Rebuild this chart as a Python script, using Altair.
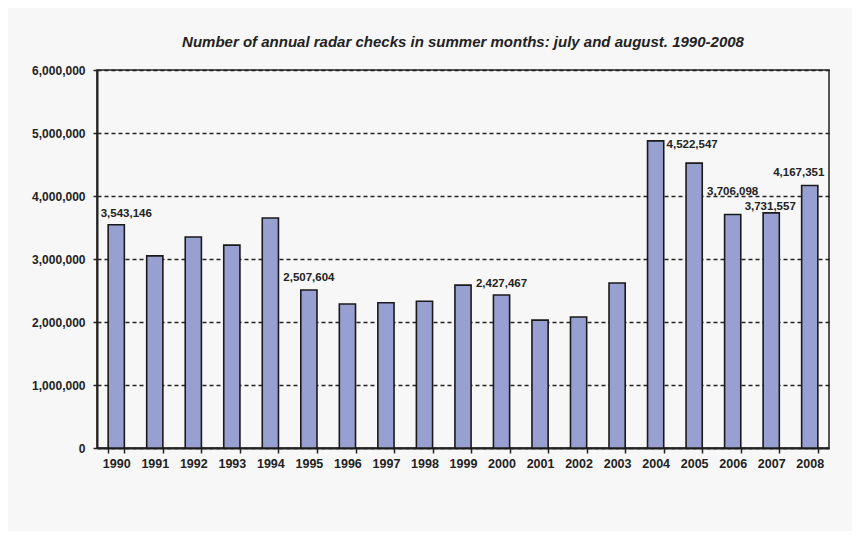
import altair as alt
import pandas as pd

years = [str(y) for y in range(1990, 2009)]
checks = [3543146, 3050000, 3350000, 3220000, 3650000, 2507604, 2285000, 2305000,
          2330000, 2585000, 2427467, 2030000, 2080000, 2620000, 4875000, 4522547,
          3706098, 3731557, 4167351]
label_years = ["1990", "1995", "2000", "2005", "2006", "2007", "2008"]
y_ticks = [0, 1000000, 2000000, 3000000, 4000000, 5000000, 6000000]
title_text = "Number of annual radar checks in summer months: july and august. 1990-2008"

FONT = "Liberation Sans"
df = pd.DataFrame({"year": years, "checks": checks})

x_enc = alt.X("year:N", sort=years, title=None,
              scale=alt.Scale(paddingInner=0.58, paddingOuter=0.29),
              axis=alt.Axis(labelAngle=0, labelFont=FONT, labelFontSize=12.5,
                            labelFontWeight="bold", labelColor="#222",
                            domainColor="#222", domainWidth=2, tickColor="#222",
                            tickWidth=1.5, tickSize=5, tickBand="extent",
                            labelPadding=4, grid=False))
y_enc = alt.Y("checks:Q", title=None,
              scale=alt.Scale(domain=[0, 6000000], nice=False),
              axis=alt.Axis(values=y_ticks, format=",.0f", labelFont=FONT,
                            labelFontSize=12, labelFontWeight="bold",
                            labelColor="#222", domainColor="#222", domainWidth=2,
                            tickColor="#222", tickWidth=1.5, tickSize=4,
                            labelPadding=8, grid=True, gridColor="#222",
                            gridDash=[4, 3], gridWidth=1.3))

bars = alt.Chart(df).mark_bar(fill="#98a0d2", stroke="#1a1a1a",
                              strokeWidth=1.6).encode(x=x_enc, y=y_enc)

offsets = {"1990": (10, -11), "1995": (0, -12), "2000": (0, -11),
           "2005": (-2, -18), "2006": (0, -23), "2007": (-1, -6),
           "2008": (-11, -12)}

layers = [bars]
for yr in label_years:
    dx, dy = offsets[yr]
    t = alt.Chart(df).transform_filter(alt.datum.year == yr).mark_text(
        font=FONT, fontSize=11.5, fontWeight="bold", color="#222",
        dx=dx, dy=dy, baseline="middle", align="center"
    ).encode(x=x_enc, y=y_enc,
             text=alt.Text("checks:Q", format=","))
    layers.append(t)

chart = alt.layer(*layers).properties(
    width=732, height=378,
    padding={"left": 89, "top": 62, "right": 23, "bottom": 83},
    autosize=alt.AutoSizeParams(type="none"),
    title=alt.TitleParams(title_text, font=FONT, fontSize=15,
                          fontStyle="italic", fontWeight="bold", color="#222",
                          anchor="middle", offset=14),
).configure(background="#f7f7f7").configure_view(
    stroke="#222", strokeWidth=1.5, fill="#f7f7f7")

chart.save("out.html", embed_options={"renderer": "svg", "actions": False})
